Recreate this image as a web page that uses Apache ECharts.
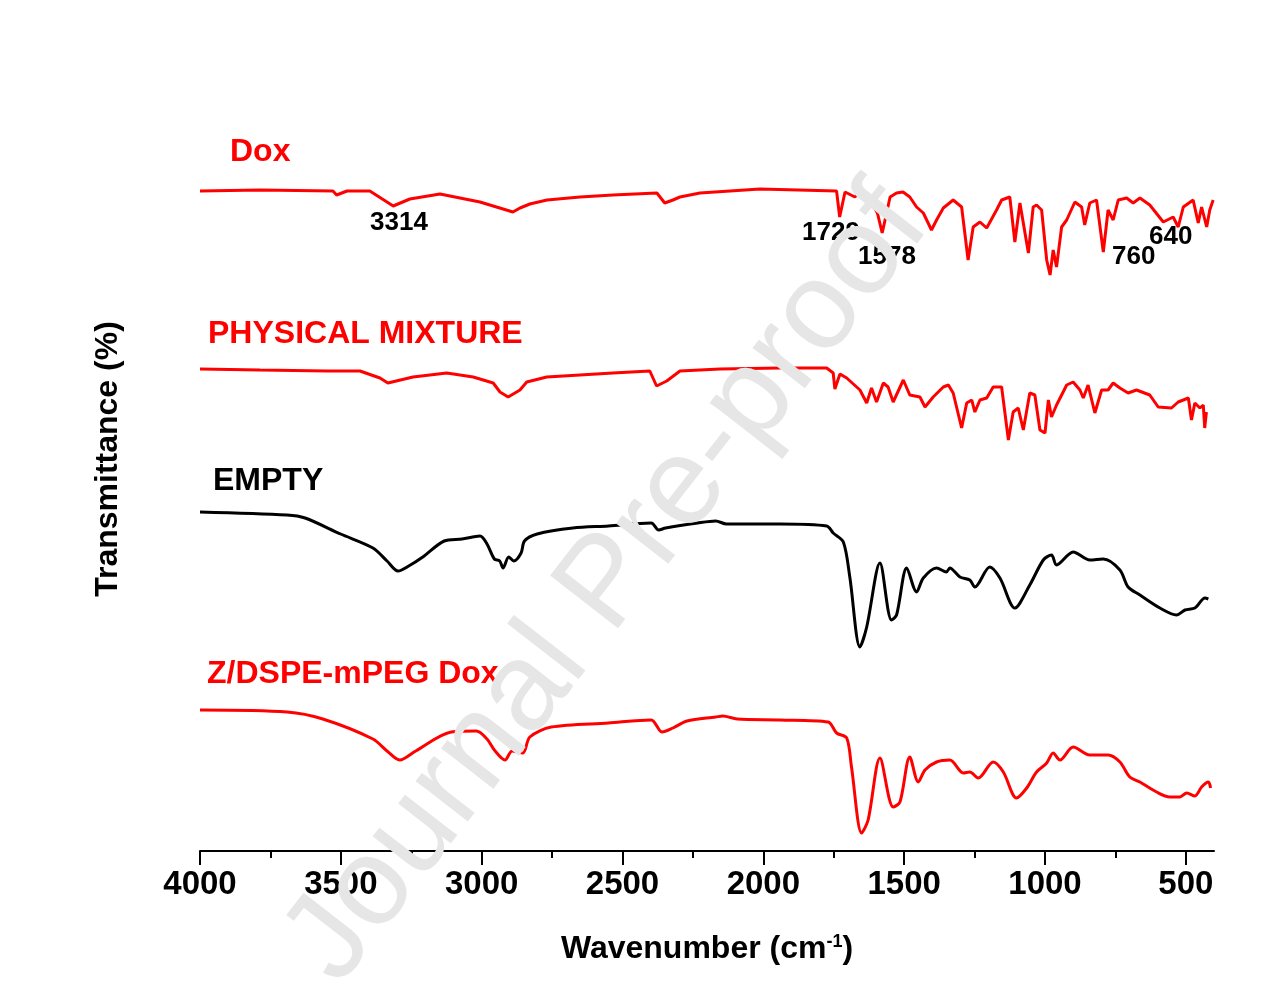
<!DOCTYPE html>
<html>
<head>
<meta charset="utf-8">
<script src="https://cdn.jsdelivr.net/npm/echarts@6/dist/echarts.min.js"></script>
<style>
html,body{margin:0;padding:0;background:#fff;}
#chart{width:1276px;height:992px;}
</style>
</head>
<body>
<div id="chart"></div>
<script>
// ---- Data (wavenumber in cm^-1, transmittance in offset arbitrary units) ----
var seriesNames = ['Dox', 'PHYSICAL MIXTURE', 'EMPTY', 'Z/DSPE-mPEG Dox'];

var doxWn = [4000,3787,3528,3515,3478,3397,3314,3255,3148,3006,2924,2889,2864,2829,2768,2651,2534,2378,2350,2321,2296,2225,2012,1740,1729,1710,1675,1647,1622,1595,1578,1550,1527,1504,1480,1456,1432,1403,1385,1361,1326,1296,1273,1255,1231,1207,1172,1154,1125,1107,1089,1059,1042,1030,1012,994,982,971,959,941,923,894,870,859,841,817,793,776,758,740,710,687,663,628,580,545,527,509,474,456,444,426,415,403];
var doxT = [66.0,66.1,66.0,65.6,66.0,66.0,64.5,65.2,65.7,64.9,64.2,63.9,64.3,64.7,65.1,65.4,65.6,65.8,64.8,65.1,65.4,65.8,66.2,66.0,63.4,65.9,65.4,66.1,65.1,63.8,61.8,65.4,65.8,65.9,65.4,64.4,63.8,62.1,63.1,64.3,65.1,64.4,59.1,62.4,62.9,62.3,64.1,65.1,65.4,60.9,64.8,59.8,64.4,64.6,64.1,59.1,57.6,60.1,58.4,62.4,63.1,64.9,64.4,62.6,64.8,65.1,59.9,64.1,63.1,65.1,65.3,64.8,65.3,64.6,62.9,63.4,62.4,64.4,65.1,62.8,64.4,62.4,64.1,65.1];

var mixWn = [4000,3787,3550,3432,3361,3333,3244,3124,3030,2959,2935,2906,2864,2840,2769,2534,2403,2379,2343,2296,2154,1941,1775,1752,1746,1728,1704,1657,1633,1616,1598,1574,1557,1539,1503,1480,1444,1426,1397,1361,1343,1326,1296,1278,1260,1249,1231,1207,1184,1154,1130,1113,1095,1077,1054,1036,1018,1000,988,977,959,923,900,876,864,847,823,799,776,758,734,705,675,628,598,551,527,491,480,468,450,438,433,427];
var mixT = [48.2,48.1,48.0,48.0,47.3,46.8,47.4,47.8,47.4,46.8,45.9,45.4,46.1,46.9,47.4,47.8,48.0,46.5,47.0,48.0,48.2,48.3,48.3,47.8,46.2,47.7,47.3,46.1,44.8,46.3,44.9,46.8,46.4,44.9,47.1,45.6,45.4,44.4,45.4,46.4,46.6,45.8,42.3,44.8,45.1,43.9,45.1,45.3,46.4,46.4,41.1,43.9,44.3,42.1,45.8,45.6,42.1,41.8,45.1,43.4,44.6,46.6,46.9,46.1,45.3,46.6,43.8,46.1,46.1,46.8,46.3,45.8,46.1,45.6,44.4,44.3,44.9,45.3,43.1,44.8,44.3,44.6,42.3,43.9];

var emptyWn = [4000,3691,3627,3501,3386,3336,3297,3259,3209,3133,3070,3006,2981,2955,2936,2924,2904,2886,2860,2848,2803,2676,2550,2398,2372,2347,2233,2169,2131,2093,1941,1775,1752,1716,1693,1657,1633,1586,1545,1527,1491,1456,1432,1385,1350,1338,1302,1267,1249,1196,1160,1107,1054,1006,977,959,900,841,793,734,705,663,592,533,503,468,432,420];
var emptyT = [33.9,33.6,33.3,31.7,30.3,29.0,28.0,28.5,29.4,31.0,31.2,31.5,30.7,29.2,29.0,28.3,29.4,29.0,29.8,31.0,31.7,32.3,32.5,32.8,32.1,32.3,32.8,33.0,32.7,32.7,32.7,32.5,31.8,30.9,27.4,20.4,22.4,28.8,23.1,23.6,28.3,25.9,27.3,28.3,27.9,28.3,27.4,27.1,26.4,28.4,27.3,24.3,26.6,29.1,29.6,28.6,29.9,29.1,29.2,28.1,26.4,25.6,24.3,23.6,24.1,24.3,25.3,25.2];

var zWn = [4000,3691,3564,3386,3336,3291,3234,3108,3019,2981,2955,2917,2892,2854,2829,2753,2550,2398,2360,2321,2271,2169,2144,2093,1941,1770,1740,1704,1687,1651,1628,1586,1539,1515,1480,1450,1426,1385,1338,1290,1267,1237,1184,1148,1101,1065,1030,994,971,947,900,841,776,734,699,663,604,557,521,497,468,444,420,412];
var zT = [14.1,13.9,13.2,11.2,10.0,9.1,10.0,11.9,12.0,11.2,10.1,9.1,10.0,9.8,11.4,12.4,12.8,13.1,11.9,12.3,13.0,13.4,13.5,13.2,13.1,12.9,11.8,11.3,8.4,1.8,3.1,9.3,4.4,4.9,9.4,6.9,8.1,8.9,9.1,7.8,7.9,7.3,8.9,7.9,5.3,6.3,7.9,8.8,9.8,9.1,10.4,9.6,9.6,8.9,7.4,6.9,5.9,5.4,5.4,5.8,5.5,6.4,6.9,6.3];

var majorTicks = [4000,3500,3000,2500,2000,1500,1000,500];
var minorTicks = [3750,3250,2750,2250,1750,1250,750];

var peakLabels = ['3314','1729','1578','760','640'];

// ---- Build ----
function pairs(xs, ys){ var out=[]; for(var i=0;i<xs.length;i++){ out.push([xs[i], ys[i]]); } return out; }

var FONT = '"Liberation Sans", Arial, sans-serif';
var RED = '#ff0000';

var chart = echarts.init(document.getElementById('chart'), null, {renderer:'canvas'});

function txt(text, x, y, size, color, align){
  return {type:'text', x:x, y:y, z:50,
    style:{text:text, fill:color, font:'bold '+size+'px '+FONT, textAlign:align||'left', textVerticalAlign:'middle'}};
}

var option = {
  backgroundColor:'#ffffff',
  animation:false,
  grid:{left:200, right:62, top:101, bottom:141, containLabel:false},
  xAxis:[{
    type:'value', min:400, max:4000, inverse:true, position:'bottom',
    axisLine:{show:true, lineStyle:{color:'#000', width:2}},
    axisTick:{show:true, customValues:majorTicks, length:14, lineStyle:{color:'#000', width:2}},
    axisLabel:{show:true, customValues:majorTicks, margin:17, fontFamily:FONT, fontSize:33, fontWeight:'bold', color:'#000',
      formatter:function(v){ return String(v); }},
    splitLine:{show:false},
    name:'Wavenumber (cm{sup|-1})', nameLocation:'middle', nameGap:82,
    nameTextStyle:{fontFamily:FONT, fontSize:32, fontWeight:'bold', color:'#000',
      rich:{sup:{fontFamily:FONT, fontSize:18, fontWeight:'bold', color:'#000', verticalAlign:'top', lineHeight:18}}}
  },{
    type:'value', min:400, max:4000, inverse:true, position:'bottom',
    axisLine:{show:false},
    axisTick:{show:true, customValues:minorTicks, length:7, lineStyle:{color:'#000', width:2}},
    axisLabel:{show:false},
    splitLine:{show:false}
  }],
  yAxis:{
    type:'value', min:0, max:75,
    axisLine:{show:false}, axisTick:{show:false}, axisLabel:{show:false}, splitLine:{show:false},
    name:'Transmittance (%)', nameLocation:'middle', nameGap:76,
    nameTextStyle:{fontFamily:FONT, fontSize:32, fontWeight:'bold', color:'#000', padding:[0,0,0,34]}
  },
  series:[
    {name:seriesNames[0], type:'line', data:pairs(doxWn, doxT), showSymbol:false, lineStyle:{color:RED, width:3}, itemStyle:{color:RED}},
    {name:seriesNames[1], type:'line', data:pairs(mixWn, mixT), showSymbol:false, lineStyle:{color:RED, width:3}, itemStyle:{color:RED}},
    {name:seriesNames[2], type:'line', data:pairs(emptyWn, emptyT), showSymbol:false, smooth:0.3, lineStyle:{color:'#000', width:3}, itemStyle:{color:'#000'}},
    {name:seriesNames[3], type:'line', data:pairs(zWn, zT), showSymbol:false, smooth:0.3, lineStyle:{color:RED, width:3}, itemStyle:{color:RED}}
  ],
  graphic:[
    txt(seriesNames[0], 230, 152, 32, RED),
    txt(seriesNames[1], 208, 334, 32, RED),
    txt(seriesNames[2], 213, 481, 32, '#000'),
    txt(seriesNames[3], 207, 674, 32, RED),
    txt(peakLabels[0], 370, 223, 26, '#000'),
    txt(peakLabels[1], 802, 233, 26, '#000'),
    txt(peakLabels[2], 858, 257, 26, '#000'),
    txt(peakLabels[3], 1112, 257, 26, '#000'),
    txt(peakLabels[4], 1149, 237, 26, '#000'),
    {type:'text', x:608, y:585, rotation:0.91, z:100,
      style:{text:'Journal Pre-proof', fill:'#e6e6e6', font:'125px '+FONT, textAlign:'center', textVerticalAlign:'middle'}}
  ]
};
chart.setOption(option);
</script>
</body>
</html>
